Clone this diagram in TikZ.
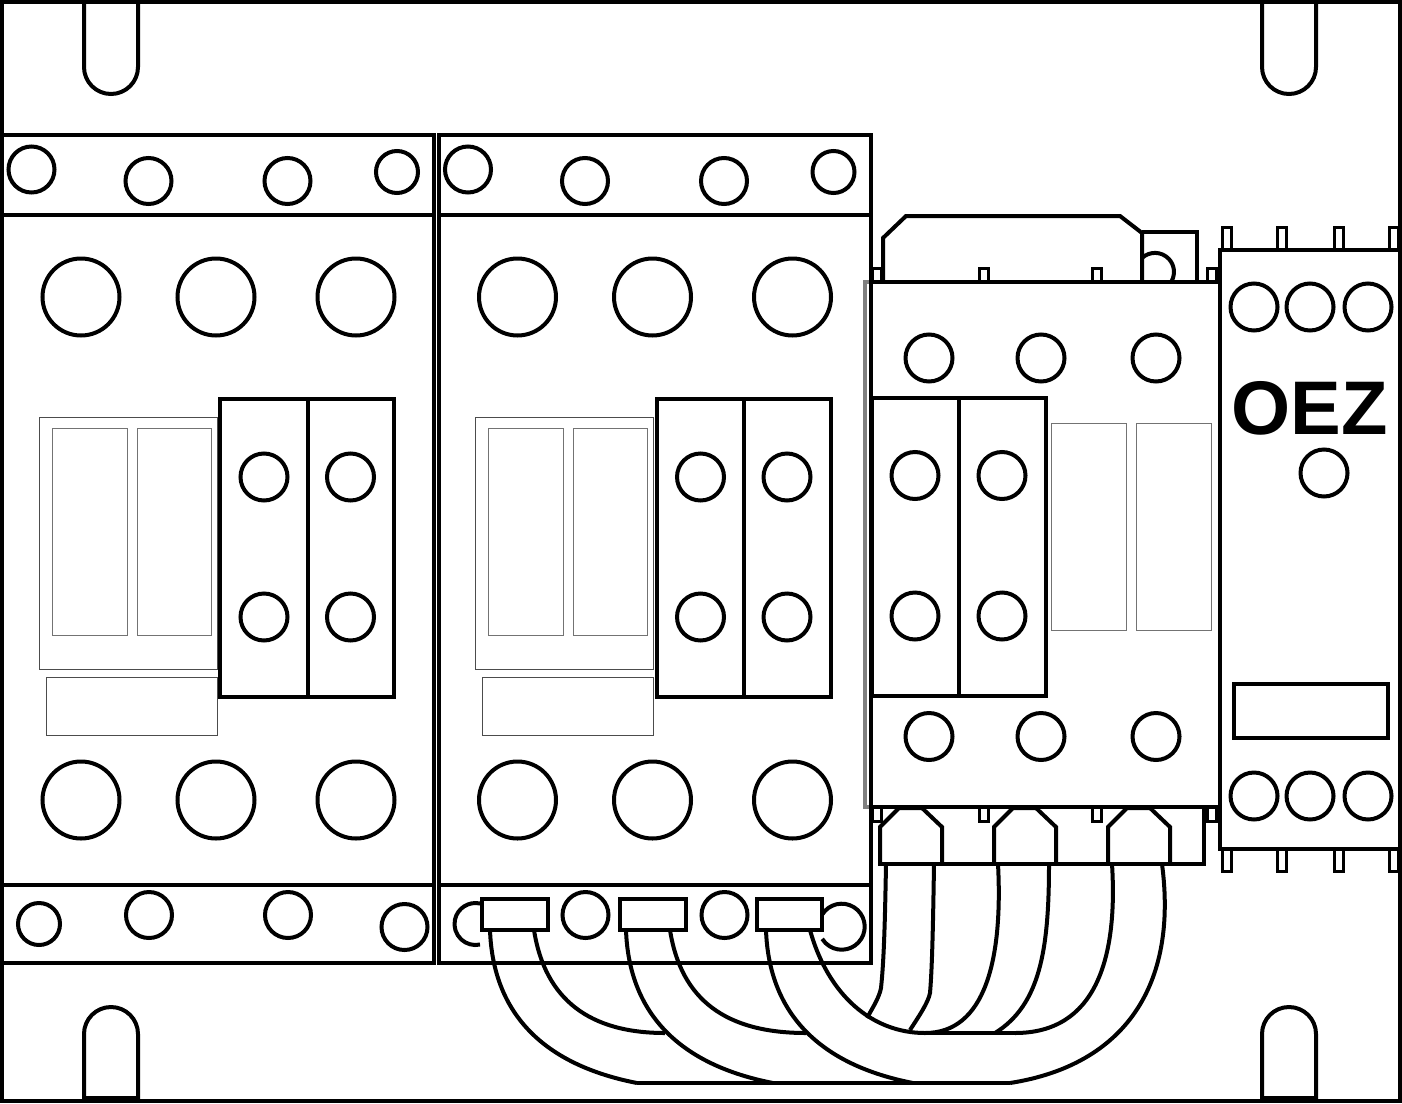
\documentclass[tikz,border=0pt]{standalone}
\usepackage{fontspec}
\setsansfont{Liberation Sans}
\tikzset{
  part/.style={line width=4pt, line join=miter},
  pin/.style={line width=3pt},
  platepart/.style={line width=1pt, black!70},
  thinpart/.style={line width=1pt, black!55},
  wire/.style={line width=4pt},
  screw/.style={line width=4pt}
}

\begin{document}
\begin{tikzpicture}[x=1pt,y=-1pt]
    \useasboundingbox (0,0) rectangle (1402,1103);

    % Draw the outer plate
    \draw[line width=4pt] (2,2) rectangle (1400,1101);

    % Draw the mounting slots
    \foreach \slotx in {84,1262} {
        \draw[part] (\slotx,2) -- (\slotx,67) arc[start angle=180,end angle=0,radius=27] -- (\slotx+54,2);
        \draw[part] (\slotx,1098) -- (\slotx,1034) arc[start angle=180,end angle=360,radius=27] -- (\slotx+54,1098) -- cycle;
    }

    % Draw the two large contactors
    \foreach \dx in {0,436.5} {
        \begin{scope}[xshift=\dx pt]
            \draw[part] (2,135) rectangle (434.4,963);
            \draw[part] (2,214.5) -- (434.4,214.5);
            \draw[part] (2,885) -- (434.4,885);

            % Label plate and windows
            \draw[platepart] (39,417) rectangle (217,669);
            \draw[thinpart] (52,428) rectangle (127,635);
            \draw[thinpart] (137,428) rectangle (211,635);
            \draw[platepart] (46,677) rectangle (217,735);

            % Auxiliary block
            \draw[part] (220,399) rectangle (394,697);
            \draw[part] (307.5,399) -- (307.5,697);
            \foreach \cx/\cy in {264/477,350.5/477,264/617,350.5/617} {
                \draw[screw] (\cx,\cy) circle [radius=23.5];
            }

            % Main terminals
            \foreach \cx in {81,216,356} {
                \draw[screw] (\cx,297) circle [radius=38.5];
                \draw[screw] (\cx,800) circle [radius=38.5];
            }

            % Screws in the strips
            \draw[screw] (31.5,169.5) circle [radius=23];
            \draw[screw] (148.5,181) circle [radius=23];
            \draw[screw] (287.5,181) circle [radius=23];
            \draw[screw] (397,172) circle [radius=21];
            \draw[screw] (149,915) circle [radius=23];
            \draw[screw] (288,915) circle [radius=23];
        \end{scope}
    }

    % Outer screws of the lower strips
    \draw[screw] (39,924) circle [radius=21];
    \draw[screw] (404.5,927) circle [radius=23];
    \draw[screw] (480,903.5) arc[start angle=-77.6,end angle=-282.4,radius=21];
    \draw[screw] (822.2,914.5) arc[start angle=-148,end angle=148,radius=23];

    % Draw the small contactor
    \draw[part,black!50] (871,282) -- (865,282) -- (865,807) -- (871,807);
    \draw[part] (883,282) -- (883,238) -- (906,216) -- (1120,216) -- (1142,233) -- (1142,282);
    \draw[part] (1142,232) -- (1197,232) -- (1197,282);
    \draw[screw] (1142,258) arc[start angle=-133,end angle=28,radius=19];
    \foreach \tabx in {877,984,1097,1212} {
        \draw[pin] (\tabx-4.5,268) rectangle (\tabx+4.5,282);
        \draw[pin] (\tabx-4.5,807) rectangle (\tabx+4.5,821.5);
    }
    \draw[part] (871,282) rectangle (1220,807);
    \foreach \cx in {929,1041,1156} {
        \draw[screw] (\cx,358) circle [radius=23.5];
        \draw[screw] (\cx,736.5) circle [radius=23.5];
    }
    \draw[part] (872,398) rectangle (1046,696);
    \draw[part] (959,398) -- (959,696);
    \foreach \cx/\cy in {915/475.5,1002/475.5,915/616,1002/616} {
        \draw[screw] (\cx,\cy) circle [radius=23.5];
    }
    \draw[thinpart] (1051,423) rectangle (1126,630);
    \draw[thinpart] (1136,423) rectangle (1211,630);

    % Terminal hoods below the small contactor
    \foreach \dx in {0,114,228} {
        \draw[part] (\dx+880,864) -- (\dx+880,827) -- (\dx+899,808) -- (\dx+922,808) -- (\dx+942,827) -- (\dx+942,864);
    }
    \draw[part] (878,864) -- (1204,864) -- (1204,807);

    % Draw the relay module
    \foreach \pinx in {1227,1281.5,1339,1394} {
        \draw[pin] (\pinx-4.5,227.5) rectangle (\pinx+4.5,250);
        \draw[pin] (\pinx-4.5,849) rectangle (\pinx+4.5,871);
    }
    \draw[part,fill=white] (1220,250) rectangle (1400,849);
    \foreach \cx in {1254,1310,1368} {
        \draw[screw] (\cx,307) circle [radius=23.5];
        \draw[screw] (\cx,796) circle [radius=23.5];
    }
    \node[font=\sffamily\bfseries\fontsize{76}{76}\selectfont, inner sep=0pt] (oez) at (1309.5,408) {OEZ};
    \draw[screw] (1324,473) circle [radius=23.5];
    \draw[part] (1234,684) rectangle (1388,738);

    % Draw the wires from the large contactors
    \foreach \dx/\endx in {0/665,136/806} {
        \draw[wire] (\dx+490,930) .. controls (\dx+493,1015) and (\dx+545,1065) .. (\dx+637,1083);
        \draw[wire] (\dx+534,930) .. controls (\dx+545,1000) and (\dx+590,1033) .. (\endx,1033);
    }
    \draw[wire] (766,930) .. controls (769,1015) and (821,1065) .. (913,1083);
    \draw[wire] (810,930) .. controls (828,995) and (872,1033) .. (925,1033);

    % Draw the wires from the small contactor
    \draw[wire] (886,864) .. controls (885,920) and (884,960) .. (881,988) .. controls (879,998) and (873,1007) .. (867,1018);
    \draw[wire] (934,864) .. controls (933,930) and (932,970) .. (930,993) .. controls (928,1003) and (919,1016) .. (910,1030);
    \draw[wire] (998,864) .. controls (1003,960) and (985,1033) .. (925,1033);
    \draw[wire] (1049,864) .. controls (1049,950) and (1040,1005) .. (995,1033);
    \draw[wire] (1112,864) .. controls (1118,960) and (1095,1033) .. (1015,1033);
    \draw[wire] (1162,864) .. controls (1178,985) and (1125,1065) .. (1010,1083);
    \draw[wire] (925,1033) -- (1015,1033);
    \draw[wire] (637,1083) -- (1010,1083);

    % Wire end terminals
    \draw[part,fill=white] (482,899) rectangle (548,929.5);
    \draw[part,fill=white] (620,899) rectangle (686,929.5);
    \draw[part,fill=white] (757,899) rectangle (822,929.5);
\end{tikzpicture}
\end{document}
